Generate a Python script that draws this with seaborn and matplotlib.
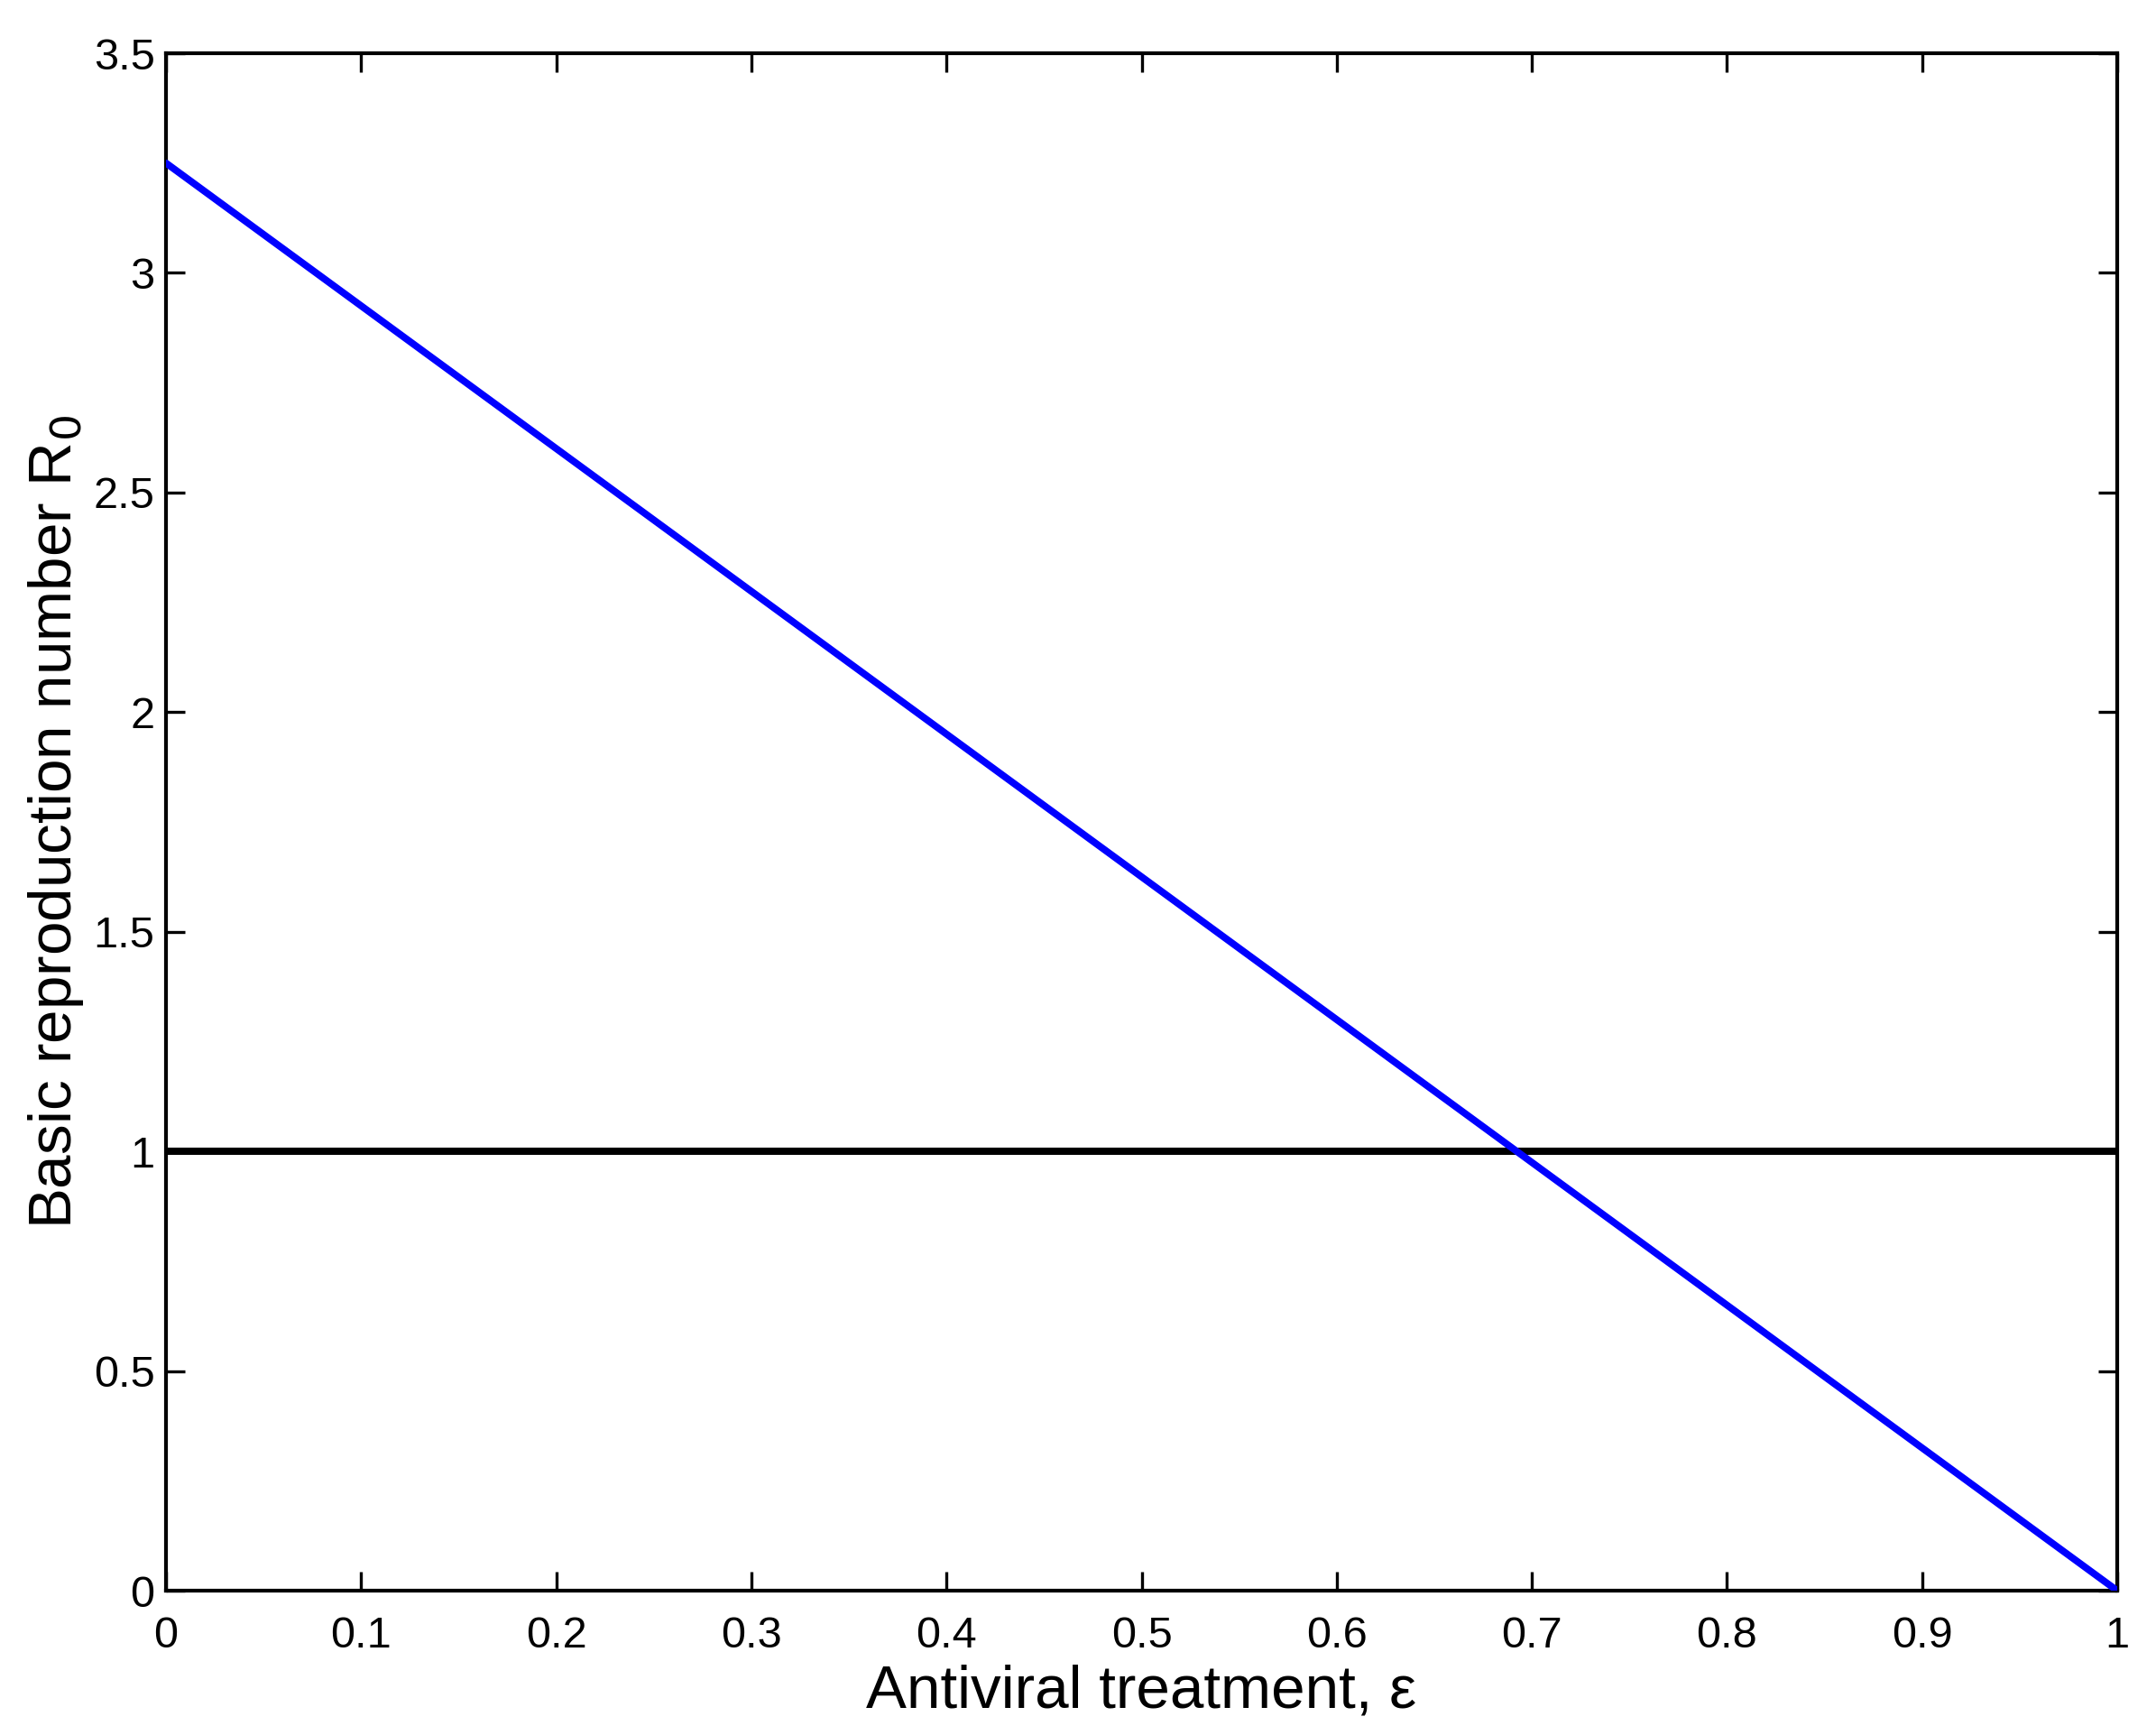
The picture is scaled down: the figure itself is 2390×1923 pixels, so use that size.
import matplotlib
matplotlib.use("Agg")
import matplotlib.pyplot as plt
import seaborn as sns
import pandas as pd

# Data
eps = [0.0, 1.0]
r0 = [3.25, 0.0]
threshold_x = [0.0, 1.0]
threshold_y = [1.0, 1.0]
xticks = [0, 0.1, 0.2, 0.3, 0.4, 0.5, 0.6, 0.7, 0.8, 0.9, 1]
xticklabels = ["0", "0.1", "0.2", "0.3", "0.4", "0.5", "0.6", "0.7", "0.8", "0.9", "1"]
yticks = [0, 0.5, 1, 1.5, 2, 2.5, 3, 3.5]
yticklabels = ["0", "0.5", "1", "1.5", "2", "2.5", "3", "3.5"]

sns.set_style("ticks")
plt.rcParams['font.family'] = ['Liberation Sans', 'DejaVu Sans']
plt.rcParams['text.color'] = 'black'
plt.rcParams['axes.labelcolor'] = 'black'

fig = plt.figure(figsize=(23.9, 19.23), dpi=100)
ax = fig.add_axes([0.077, 0.0832, 0.905, 0.8861])

df_r0 = pd.DataFrame({"eps": eps, "R0": r0})
df_th = pd.DataFrame({"eps": threshold_x, "R0": threshold_y})

sns.lineplot(data=df_th, x="eps", y="R0", ax=ax, color="black", linewidth=5.8, zorder=2)
sns.lineplot(data=df_r0, x="eps", y="R0", ax=ax, color="#0000ff", linewidth=5.6, zorder=3)

ax.set_xlim(0, 1)
ax.set_ylim(0, 3.5)
ax.set_xticks(xticks)
ax.set_xticklabels(xticklabels)
ax.set_yticks(yticks)
ax.set_yticklabels(yticklabels)

for s in ax.spines.values():
    s.set_visible(True)
    s.set_linewidth(3.0)
    s.set_color("black")

ax.tick_params(axis="both", which="major", direction="in", length=15, width=2.4,
               top=True, right=True, labelsize=35, colors="black",
               labelcolor="black")
ax.tick_params(axis="x", pad=20)
ax.tick_params(axis="y", pad=9)

ax.set_xlabel("Antiviral treatment, ε", fontsize=48.5, labelpad=6, color="black")
ax.set_ylabel("Basic reproduction number R$_0$", fontsize=48.5, labelpad=6, color="black")

fig.savefig("out.png", dpi=100)
